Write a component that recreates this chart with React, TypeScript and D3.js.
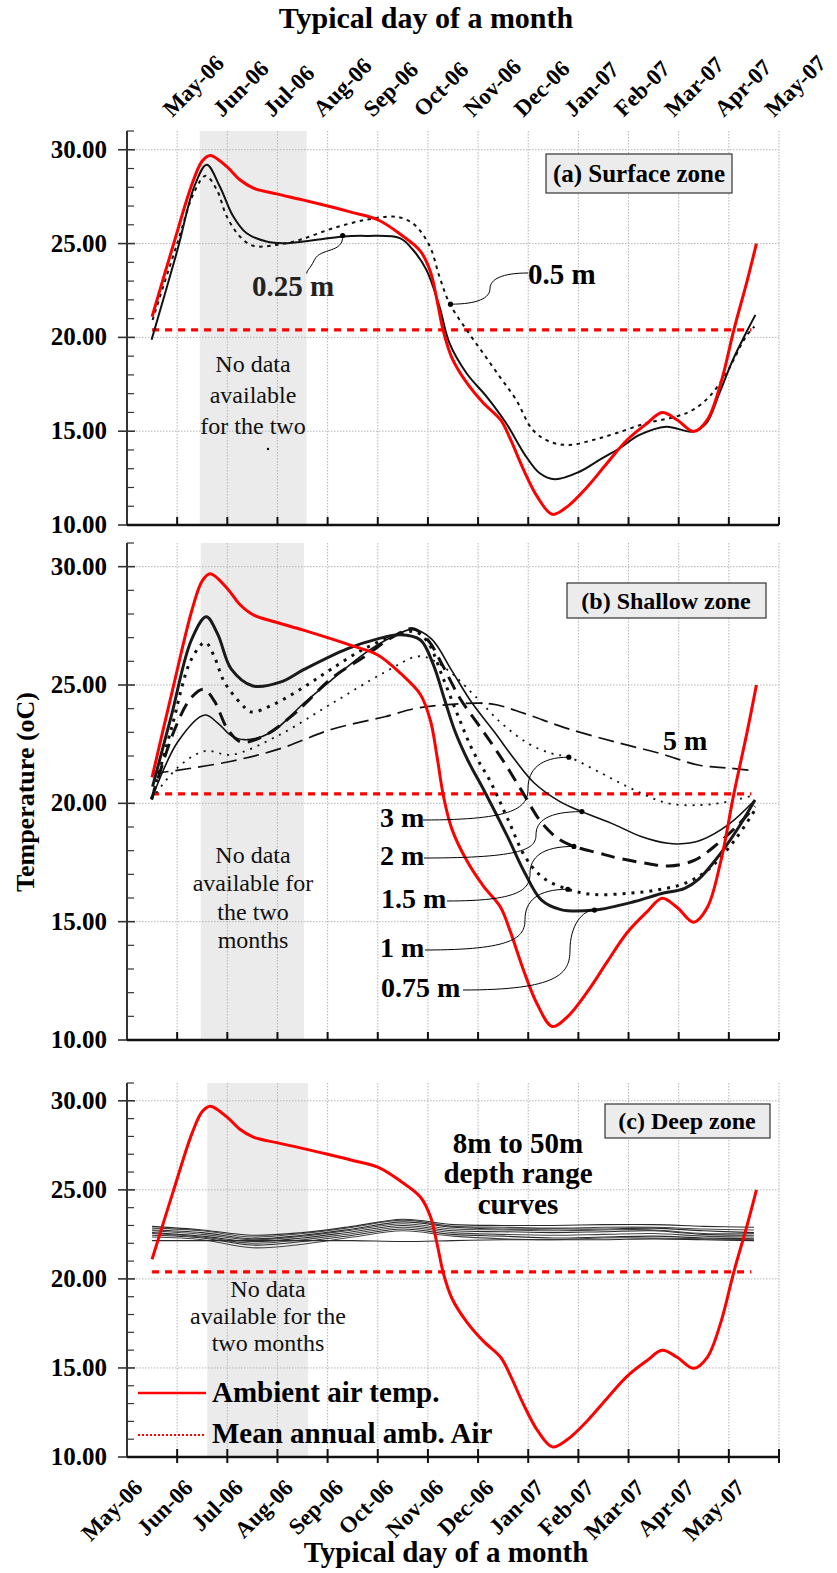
import * as d3 from "d3";

type Pt = [number, number];

const monthLabels = ["May-06", "Jun-06", "Jul-06", "Aug-06", "Sep-06", "Oct-06", "Nov-06", "Dec-06", "Jan-07", "Feb-07", "Mar-07", "Apr-07", "May-07"];
const majorTicks = [10, 15, 20, 25, 30];
const meanAnnualAir = 20.4;

// ambient air temperature (month position, degC) - same in every panel
const ambientAir: Pt[] = [
  [0.5, 21.1], [0.92, 24.9], [1.3, 28.2], [1.5, 29.4], [1.66, 29.7], [1.99, 29.1], [2.25, 28.4], [2.52, 27.96],
  [2.98, 27.65], [3.5, 27.33], [4.0, 27.0], [4.5, 26.65], [5.0, 26.27], [5.45, 25.5], [5.85, 24.6],
  [6.05, 23.5], [6.18, 22.0], [6.31, 20.3], [6.48, 18.9], [6.78, 17.56], [7.11, 16.49], [7.45, 15.6],
  [7.64, 14.6], [7.91, 12.93], [8.18, 11.51], [8.48, 10.57], [8.78, 10.98], [9.18, 12.04], [9.57, 13.29],
  [9.97, 14.53], [10.37, 15.42], [10.67, 15.99], [10.97, 15.6], [11.3, 14.98], [11.57, 15.6],
  [11.84, 17.56], [12.1, 20.4], [12.37, 23.07], [12.55, 25.0],
];

// (a) surface zone
const surface025: Pt[] = [
  [0.49, 19.87], [1.0, 24.6], [1.35, 28.1], [1.59, 29.2], [1.85, 28.04], [2.12, 26.44], [2.38, 25.56],
  [2.78, 25.11], [3.11, 25.02], [3.78, 25.2], [4.31, 25.38], [4.77, 25.41], [5.44, 25.29], [5.7, 24.67],
  [5.97, 23.6], [6.23, 21.64], [6.43, 19.69], [6.77, 18.09], [7.17, 16.84], [7.56, 15.42], [7.96, 13.64],
  [8.23, 12.76], [8.53, 12.44], [9.02, 12.84], [9.42, 13.47], [9.82, 14.09], [10.22, 14.8], [10.75, 15.24],
  [11.28, 14.98], [11.55, 15.42], [11.81, 17.02], [12.08, 18.8], [12.34, 20.22], [12.53, 21.2],
];
const surface05: Pt[] = [
  [0.51, 20.93], [1.0, 25.0], [1.35, 27.8], [1.57, 28.61], [1.79, 27.87], [1.99, 26.44], [2.25, 25.38],
  [2.52, 24.88], [2.98, 24.93], [3.45, 25.2], [4.11, 25.82], [4.77, 26.27], [5.3, 26.44], [5.55, 26.3],
  [5.77, 25.91], [6.04, 24.84], [6.23, 23.24], [6.43, 21.82], [6.77, 20.4], [7.1, 19.16], [7.43, 17.91],
  [7.76, 16.67], [8.09, 15.07], [8.43, 14.44], [8.82, 14.27], [9.29, 14.53], [9.75, 14.89], [10.35, 15.42],
  [10.95, 15.78], [11.28, 16.13], [11.61, 16.84], [11.95, 18.09], [12.34, 20.04], [12.51, 20.58],
];

// (b) shallow zone
const shallow075: Pt[] = [
  [0.51, 20.71], [0.88, 23.66], [1.28, 26.88], [1.58, 27.88], [1.81, 27.14], [2.08, 25.67], [2.51, 24.96],
  [3.07, 25.13], [3.54, 25.67], [4.4, 26.54], [5.0, 26.95], [5.45, 27.12], [5.85, 26.9], [6.1, 25.9],
  [6.33, 24.4], [6.53, 23.1], [6.8, 21.8], [7.13, 20.5], [7.59, 18.58], [7.92, 17.11], [8.26, 15.92],
  [8.65, 15.51], [9.32, 15.49], [10.12, 15.85], [10.64, 16.18], [11.12, 16.41], [11.4, 16.8], [11.79, 17.76],
  [12.19, 18.97], [12.52, 20.14],
];
const shallow1: Pt[] = [
  [0.49, 20.17], [0.88, 23.12], [1.28, 26.07], [1.56, 26.8], [1.74, 26.2], [1.94, 25.13], [2.28, 24.2],
  [2.48, 23.86], [2.94, 24.2], [3.54, 24.93], [4.07, 25.67], [4.74, 26.54], [5.4, 27.14], [5.75, 27.25],
  [6.0, 26.8], [6.3, 25.3], [6.6, 23.7], [6.9, 22.2], [7.25, 20.9], [7.6, 19.3], [7.95, 17.7], [8.3, 16.85],
  [8.79, 16.37], [9.3, 16.15], [10.0, 16.2], [10.6, 16.35], [11.12, 16.62], [11.58, 17.18], [12.12, 18.45],
  [12.52, 19.72],
];
const shallow15: Pt[] = [
  [0.49, 20.17], [0.95, 23.12], [1.28, 24.46], [1.53, 24.82], [1.74, 24.33], [2.01, 23.12], [2.28, 22.59],
  [2.74, 22.86], [3.34, 23.79], [3.61, 24.33], [4.07, 25.27], [4.74, 26.21], [5.35, 27.1], [5.7, 27.38],
  [6.0, 26.9], [6.3, 25.8], [6.65, 24.4], [7.1, 23.05], [7.5, 21.8], [7.85, 20.6], [8.26, 19.2], [8.6, 18.5],
  [8.91, 18.18], [9.4, 17.9], [9.8, 17.68], [10.4, 17.45], [10.8, 17.35], [11.32, 17.6], [11.78, 18.3],
  [12.19, 19.1], [12.52, 19.88],
];
const shallow2: Pt[] = [
  [0.49, 20.17], [1.01, 22.59], [1.55, 23.73], [1.81, 23.39], [2.08, 22.86], [2.34, 22.69], [2.87, 22.99],
  [3.54, 24.26], [4.07, 25.2], [4.74, 26.34], [5.3, 27.05], [5.7, 27.35], [6.07, 26.95], [6.47, 25.63],
  [6.86, 24.3], [7.33, 23.0], [7.73, 21.85], [8.12, 20.86], [8.65, 20.05], [9.07, 19.65], [9.72, 19.1],
  [10.25, 18.6], [10.79, 18.31], [11.12, 18.3], [11.45, 18.45], [11.99, 19.1], [12.52, 20.14],
];
const shallow3: Pt[] = [
  [0.49, 20.17], [1.01, 21.51], [1.55, 22.21], [2.08, 22.05], [3.01, 22.86], [4.07, 24.2], [5.14, 25.54],
  [5.8, 26.21], [6.1, 26.05], [6.47, 25.5], [6.93, 24.55], [7.46, 23.4], [7.99, 22.54], [8.46, 22.11],
  [8.81, 21.95], [9.46, 21.27], [10.12, 20.56], [10.79, 20.0], [11.45, 19.93], [11.98, 20.07], [12.52, 20.35],
];
const shallow5: Pt[] = [
  [0.51, 21.27], [0.95, 21.38], [2.08, 21.78], [3.07, 22.32], [4.07, 23.12], [5.14, 23.66], [5.73, 24.0],
  [6.4, 24.17], [7.26, 24.2], [7.92, 23.8], [8.72, 23.2], [9.72, 22.6], [10.64, 22.1], [11.39, 21.62],
  [11.99, 21.49], [12.52, 21.38],
];

// (c) deep zone, 8 m to 50 m, one value per month
const deepMonths = [0.5, 1.5, 2.5, 3.5, 4.5, 5.5, 6.5, 7.5, 8.5, 9.5, 10.5, 11.5, 12.5];
const deep8 = [22.95, 22.75, 22.45, 22.6, 22.95, 23.35, 23.05, 23.0, 23.0, 23.05, 23.05, 22.95, 22.9];
const deep10 = [22.85, 22.7, 22.35, 22.55, 22.9, 23.3, 22.95, 22.9, 22.85, 22.9, 22.9, 22.8, 22.75];
const deep12 = [22.75, 22.6, 22.25, 22.45, 22.8, 23.2, 22.9, 22.8, 22.8, 22.8, 22.85, 22.7, 22.6];
const deep15 = [22.7, 22.5, 22.2, 22.4, 22.75, 23.1, 22.8, 22.75, 22.7, 22.75, 22.75, 22.55, 22.55];
const deep20 = [22.6, 22.4, 22.1, 22.3, 22.65, 23.0, 22.7, 22.65, 22.6, 22.65, 22.7, 22.5, 22.45];
const deep25 = [22.55, 22.35, 22.0, 22.2, 22.55, 22.9, 22.6, 22.5, 22.45, 22.5, 22.55, 22.4, 22.35];
const deep30 = [22.45, 22.3, 21.9, 22.1, 22.45, 22.8, 22.5, 22.4, 22.3, 22.35, 22.4, 22.3, 22.25];
const deep40 = [22.35, 22.2, 21.75, 21.95, 22.35, 22.7, 22.4, 22.25, 22.2, 22.3, 22.3, 22.25, 22.2];
const deep50 = [22.15, 22.15, 22.15, 22.15, 22.15, 22.1, 22.15, 22.2, 22.2, 22.2, 22.25, 22.2, 22.15];
const deepSeries = [deep8, deep10, deep12, deep15, deep20, deep25, deep30, deep40, deep50];

// months without data (start, end)
const noDataA: Pt = [1.45, 3.58];
const noDataB: Pt = [1.47, 3.53];
const noDataC: Pt = [1.6, 3.61];

// points the depth labels refer to
const mark025: Pt = [4.3, 25.43];
const mark05: Pt = [6.45, 21.77];
const mark3: Pt = [8.81, 21.95];
const mark2: Pt = [9.07, 19.65];
const mark15: Pt = [8.91, 18.18];
const mark1: Pt = [8.79, 16.37];
const mark075: Pt = [9.32, 15.49];

const FONT = "'Liberation Serif', 'Times New Roman', Times, serif";
const W = 837;
const H = 1573;

const x = d3.scaleLinear().domain([0, 13]).range([127, 779]);
const yA = d3.scaleLinear().domain([10, 31]).range([525, 131]);
const yB = d3.scaleLinear().domain([10, 31]).range([1040, 543]);
const yC = d3.scaleLinear().domain([10, 31]).range([1457, 1083]);

const smooth = d3.curveCatmullRom.alpha(0.5);
function path(y: d3.ScaleLinear<number, number>, pts: Pt[]) {
  return d3.line<Pt>().x((d) => x(d[0])).y((d) => y(d[1])).curve(smooth)(pts) || "";
}

function leader(x0: number, y0: number, x1: number, y1: number, xv: number) {
  const ym = (y0 + y1) / 2;
  return `M${x0},${y0} C${xv - 12},${y0} ${xv},${y0 + (ym - y0) * 0.4} ${xv},${ym} C${xv},${y1 - (y1 - ym) * 0.4} ${xv + 12},${y1} ${x1},${y1}`;
}

function Frame({ y, band, crossTicks }: { y: d3.ScaleLinear<number, number>; band: Pt; crossTicks?: boolean }) {
  const [bottom, top] = y.range();
  const minor = d3.range(11, 32).filter((v) => v % 5 !== 0);
  return (
    <g>
      <rect x={x(band[0])} y={top} width={x(band[1]) - x(band[0])} height={bottom - top} fill="#ebebeb" />
      {d3.range(1, 14).map((m) => (
        <line key={"v" + m} x1={x(m)} x2={x(m)} y1={top} y2={bottom} stroke="#b5b5b5" strokeWidth={1} strokeDasharray="1.5,1.5" />
      ))}
      {[15, 20, 25, 30].map((v) => (
        <line key={"h" + v} x1={x(0)} x2={x(13)} y1={y(v)} y2={y(v)} stroke="#b5b5b5" strokeWidth={1} strokeDasharray="1.5,1.5" />
      ))}
      <line x1={x(0)} x2={x(0)} y1={top} y2={bottom} stroke="#333" strokeWidth={2} />
      {minor.map((v) => (
        <line key={"mt" + v} x1={x(0)} x2={x(0) + 7} y1={y(v)} y2={y(v)} stroke="#333" strokeWidth={1.2} />
      ))}
      {majorTicks.map((v) => (
        <g key={"t" + v}>
          <line x1={x(0) - 9} x2={x(0) + 8} y1={y(v)} y2={y(v)} stroke="#333" strokeWidth={1.6} />
          <text x={107} y={y(v) + 8} textAnchor="end" fontSize={25} fontWeight="bold">
            {v.toFixed(2)}
          </text>
        </g>
      ))}
      <line x1={x(0)} x2={x(13)} y1={bottom} y2={bottom} stroke="#111" strokeWidth={2.5} />
      {d3.range(1, 14).map((m) => (
        <line key={"xt" + m} x1={x(m)} x2={x(m)} y1={bottom - 8} y2={bottom + (crossTicks ? 6 : 0)} stroke="#111" strokeWidth={2} />
      ))}
      <line x1={x(0.5)} x2={x(12.45)} y1={y(meanAnnualAir)} y2={y(meanAnnualAir)} stroke="#f00" strokeWidth={3.2} strokeDasharray="7,6" />
    </g>
  );
}

export default function App() {
  const dot = (y: d3.ScaleLinear<number, number>, p: Pt) => <circle cx={x(p[0])} cy={y(p[1])} r={2.6} fill="#000" />;
  const deepPaths = deepSeries.map((s) => path(yC, s.map((v, i) => [deepMonths[i], v] as Pt)));

  return (
    <div>
      <style>{"body{margin:0}"}</style>
      <svg width={W} height={H} fontFamily={FONT} style={{ display: "block", background: "#fff" }}>
        {/* top axis title and labels */}
        <text x={426} y={28} textAnchor="middle" fontSize={30} fontWeight="bold">Typical day of a month</text>
        {monthLabels.map((t, i) => (
          <text key={"top" + t + i} transform={`translate(${x(i + 0.9)},118) rotate(-45)`} fontSize={23} fontWeight="bold">
            {t}
          </text>
        ))}

        {/* (a) surface zone */}
        <Frame y={yA} band={noDataA} />
        <g fontSize={24} textAnchor="middle" fill="#111">
          <text x={253} y={372}>No data</text>
          <text x={253} y={403}>available</text>
          <text x={253} y={434}>for the two</text>
        </g>
        <circle cx={268} cy={449} r={1.2} fill="#000" />
        <path d={path(yA, surface05)} fill="none" stroke="#111" strokeWidth={2} strokeDasharray="3.5,4.5" />
        <path d={path(yA, surface025)} fill="none" stroke="#111" strokeWidth={2} />
        <path d={path(yA, ambientAir)} fill="none" stroke="#f00" strokeWidth={3} />
        <rect x={546} y={154} width={186} height={39} fill="#ececec" stroke="#333" strokeWidth={1.2} />
        <text x={639} y={182} textAnchor="middle" fontSize={25} fontWeight="bold">(a) Surface zone</text>
        {dot(yA, mark025)}
        <path d={`M${x(mark025[0])},${yA(mark025[1])} C${x(mark025[0]) + 1},${yA(mark025[1]) + 18} ${x(mark025[0]) - 22},${yA(mark025[1]) + 12} ${x(mark025[0]) - 28},${yA(mark025[1]) + 24} S${x(mark025[0]) - 35},${yA(mark025[1]) + 33} ${x(mark025[0]) - 36},${yA(mark025[1]) + 38}`} fill="none" stroke="#000" strokeWidth={1} />
        <text x={252} y={296} fontSize={29} fontWeight="bold" fill="#222">0.25 m</text>
        {dot(yA, mark05)}
        <path d={leader(x(mark05[0]), yA(mark05[1]), 528, 273, 490)} fill="none" stroke="#000" strokeWidth={1} />
        <text x={528} y={284} fontSize={29} fontWeight="bold">0.5 m</text>

        {/* (b) shallow zone */}
        <Frame y={yB} band={noDataB} />
        <g fontSize={24} textAnchor="middle" fill="#111">
          <text x={253} y={863}>No data</text>
          <text x={253} y={891}>available for</text>
          <text x={253} y={920}>the two</text>
          <text x={253} y={948}>months</text>
        </g>
        <path d={path(yB, shallow5)} fill="none" stroke="#111" strokeWidth={1.7} strokeDasharray="16,7" />
        <path d={path(yB, shallow3)} fill="none" stroke="#111" strokeWidth={1.8} strokeDasharray="2,6" />
        <path d={path(yB, shallow2)} fill="none" stroke="#111" strokeWidth={1.6} />
        <path d={path(yB, shallow15)} fill="none" stroke="#111" strokeWidth={3} strokeDasharray="14,8" />
        <path d={path(yB, shallow1)} fill="none" stroke="#111" strokeWidth={3} strokeDasharray="3,6" />
        <path d={path(yB, shallow075)} fill="none" stroke="#1a1a1a" strokeWidth={3} />
        <path d={path(yB, ambientAir)} fill="none" stroke="#f00" strokeWidth={3} />
        <rect x={567} y={583} width={199} height={35} fill="#ececec" stroke="#333" strokeWidth={1.2} />
        <text x={666} y={609} textAnchor="middle" fontSize={24} fontWeight="bold">(b) Shallow zone</text>
        <text x={663} y={750} fontSize={28} fontWeight="bold">5 m</text>
        <g fontSize={28} fontWeight="bold">
          <text x={380} y={827}>3 m</text>
          <text x={380} y={865}>2 m</text>
          <text x={381} y={908}>1.5 m</text>
          <text x={380} y={957}>1 m</text>
          <text x={381} y={997}>0.75 m</text>
        </g>
        <g fill="none" stroke="#000" strokeWidth={1}>
          <path d={leader(423, 820, x(mark3[0]), yB(mark3[1]), 528)} />
          <path d={leader(424, 858, x(mark2[0]), yB(mark2[1]), 536)} />
          <path d={leader(447, 901, x(mark15[0]), yB(mark15[1]), 530)} />
          <path d={leader(425, 950, x(mark1[0]), yB(mark1[1]), 525)} />
          <path d={leader(463, 990, x(mark075[0]), yB(mark075[1]), 570)} />
        </g>
        {dot(yB, mark3)}
        {dot(yB, mark2)}
        {dot(yB, mark15)}
        {dot(yB, mark1)}
        {dot(yB, mark075)}

        {/* (c) deep zone */}
        <Frame y={yC} band={noDataC} crossTicks />
        <g fontSize={24} textAnchor="middle" fill="#111">
          <text x={268} y={1297}>No data</text>
          <text x={268} y={1324}>available for the</text>
          <text x={268} y={1351}>two months</text>
        </g>
        {deepPaths.map((d, i) => (
          <path key={"deep" + i} d={d} fill="none" stroke={i % 2 ? "#444" : "#2a2a2a"} strokeWidth={1.1} />
        ))}
        <path d={path(yC, ambientAir)} fill="none" stroke="#f00" strokeWidth={3} />
        <rect x={605} y={1104} width={165} height={34} fill="#ececec" stroke="#333" strokeWidth={1.2} />
        <text x={687} y={1129} textAnchor="middle" fontSize={24} fontWeight="bold">(c) Deep zone</text>
        <g fontSize={29} fontWeight="bold" textAnchor="middle">
          <text x={518} y={1153}>8m to 50m</text>
          <text x={518} y={1183}>depth range</text>
          <text x={518} y={1214}>curves</text>
        </g>
        <line x1={138} x2={206} y1={1393} y2={1393} stroke="#f00" strokeWidth={2.5} />
        <text x={212} y={1402} fontSize={29} fontWeight="bold">Ambient air temp.</text>
        <line x1={138} x2={206} y1={1435} y2={1435} stroke="#f00" strokeWidth={2} strokeDasharray="2,2" />
        <text x={212} y={1443} fontSize={29} fontWeight="bold">Mean annual amb. Air</text>

        {/* bottom axis labels */}
        {monthLabels.map((t, i) => (
          <text key={"bot" + t + i} transform={`translate(${x(i) + 17},1489) rotate(-45)`} textAnchor="end" fontSize={23} fontWeight="bold">
            {t}
          </text>
        ))}
        <text x={446} y={1562} textAnchor="middle" fontSize={29} fontWeight="bold">Typical day of a month</text>

        <text transform="translate(34,792) rotate(-90)" textAnchor="middle" fontSize={26} fontWeight="bold">Temperature (oC)</text>
      </svg>
    </div>
  );
}
